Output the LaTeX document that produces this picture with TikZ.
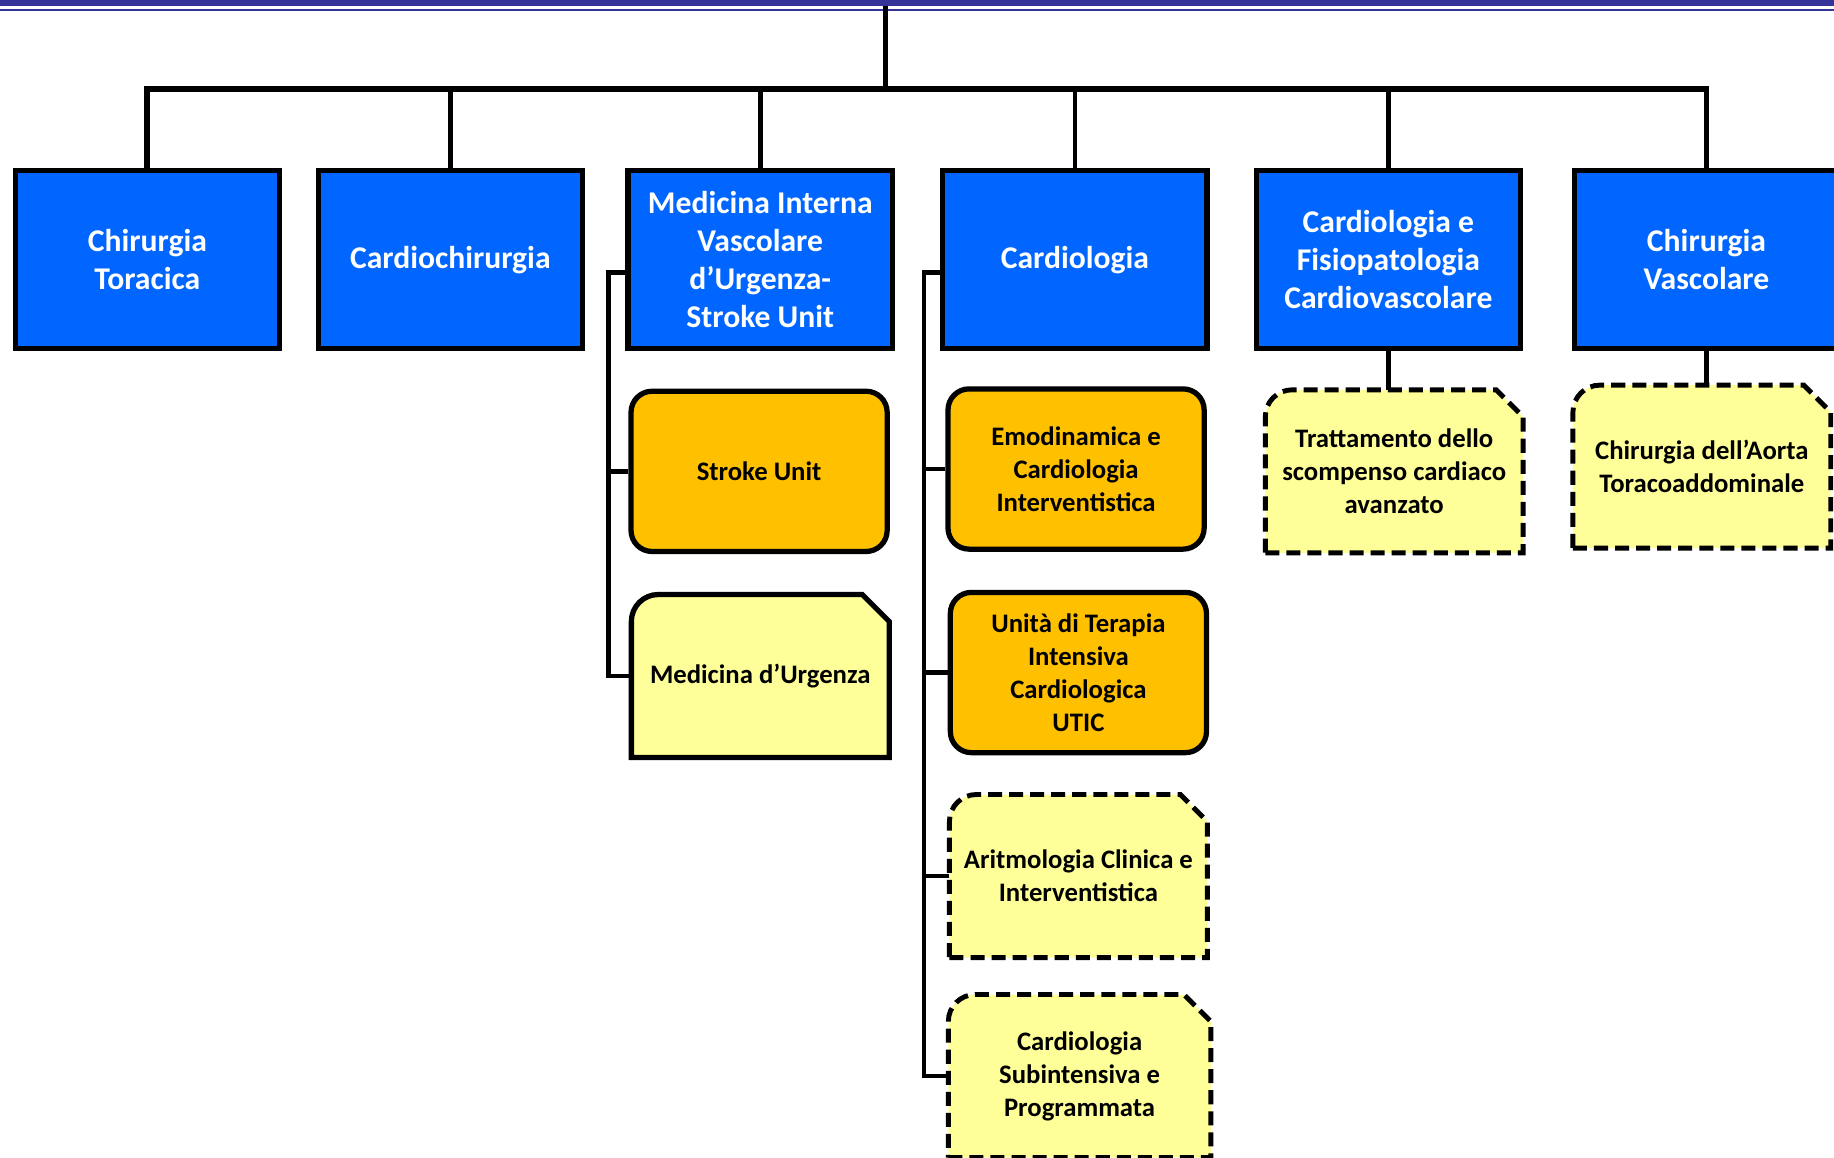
\documentclass[tikz,border=0pt]{standalone}
\usepackage{fontspec}
\setmainfont{Carlito}
\usetikzlibrary{backgrounds}

\definecolor{unitblue}{RGB}{0,102,255}
\definecolor{unitorange}{RGB}{255,192,0}
\definecolor{unityellow}{RGB}{255,255,153}
\definecolor{barblue}{RGB}{51,51,153}

% frame with a cut top right corner and a round top left corner
\newcommand{\snipframe}[2]{%
  \draw[snipline,#2] (#1.south west) -- (#1.south east) -- ([yshift=-2.3mm]#1.north east)
    -- ([xshift=-2.3mm]#1.north east) [rounded corners=2.3mm] -- (#1.north west)
    -- (#1.west) [sharp corners] -- cycle;}

\begin{document}
\begin{tikzpicture}[x=0.1mm,y=-0.1mm,
    dept/.style={draw,line width=0.45mm,fill=unitblue,text=white,align=center,
      font=\fontsize{7.7}{9.3}\selectfont\bfseries,minimum width=22.6mm,minimum height=15.2mm},
    unit/.style={draw,line width=0.45mm,fill=unitorange,rounded corners=1.8mm,align=center,
      font=\fontsize{6.5}{8}\selectfont\bfseries,minimum width=21.9mm,minimum height=13.7mm},
    subunit/.style={align=center,font=\fontsize{6.5}{8}\selectfont\bfseries,
      minimum width=21.9mm,minimum height=13.8mm},
    snipline/.style={line width=0.45mm,fill=unityellow},
    planned/.style={line width=0.42mm,dash pattern=on 1.2mm off 0.6mm},
    link/.style={line width=0.4mm}]
  \useasboundingbox (0,0) rectangle (1568,990);

  % title bar
  \fill[barblue] (0,0) rectangle (1568,5.5);
  \draw[barblue,line width=0.15mm] (0,8.5) -- (1568,8.5);

  % departments
  \node[dept] (torac) at (126,222) {Chirurgia\\Toracica};
  \node[dept] (cardch) at (385,222) {Cardiochirurgia};
  \node[dept] (medint) at (650,222) {Medicina Interna\\Vascolare\\d’Urgenza-\\Stroke Unit};
  \node[dept] (cardio) at (919,222) {Cardiologia};
  \node[dept] (fisiop) at (1187,222) {Cardiologia e\\Fisiopatologia\\Cardiovascolare};
  \node[dept] (vasc) at (1459,222) {Chirurgia\\Vascolare};

  % units
  \node[unit] (stroke) at (649,403) {Stroke Unit};
  \node[unit] (emod) at (920,401) {Emodinamica e\\Cardiologia\\Interventistica};
  \node[unit] (utic) at (922,575) {Unità di Terapia\\Intensiva\\Cardiologica\\UTIC};

  % sub-units
  \node[subunit] (urg) at (650,578) {Medicina d’Urgenza};
  \node[subunit] (aritm) at (922,749) {Aritmologia Clinica e\\Interventistica};
  \node[subunit,minimum width=22.3mm] (subint) at (923,920) {Cardiologia\\Subintensiva e\\Programmata};
  \node[subunit] (scomp) at (1192,403) {Trattamento dello\\scompenso cardiaco\\avanzato};
  \node[subunit] (aorta) at (1455,399) {Chirurgia dell’Aorta\\Toracoaddominale};
  \begin{scope}[on background layer]
    \snipframe{urg}{}
    \snipframe{aritm}{planned}
    \snipframe{subint}{planned}
    \snipframe{scomp}{planned}
    \snipframe{aorta}{planned}
  \end{scope}

  % tree
  \coordinate (top) at (757,5);
  \coordinate (bus) at (757,76);
  \draw[link] (top) -- (bus);
  \draw[link,line width=0.5mm] (torac.north) |- (bus) -| (vasc.north);
  \foreach \n in {cardch,medint,cardio,fisiop}
    \draw[link] (\n.north) -- (\n.north |- bus);

  \coordinate (medspine) at (520,233);
  \draw[link] (medint.west |- medspine) -- (medspine) |- (urg.west);
  \draw[link] (stroke.west) -- (stroke.west -| medspine);

  \coordinate (cardspine) at (790,233);
  \draw[link] (cardio.west |- cardspine) -- (cardspine) |- (subint.west);
  \foreach \n in {emod,utic,aritm}
    \draw[link] (\n.west) -- (\n.west -| cardspine);

  \draw[link] (fisiop.south) -- (fisiop.south |- scomp.north);
  \draw[link] (vasc.south) -- (vasc.south |- aorta.north);
\end{tikzpicture}
\end{document}
